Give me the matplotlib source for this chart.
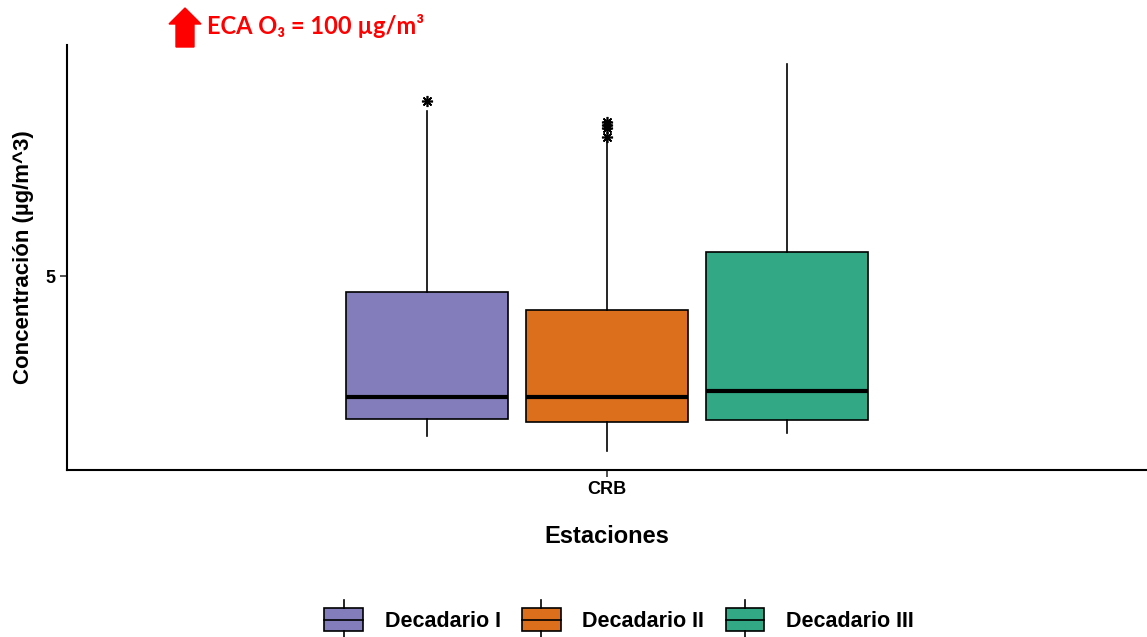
import math
import matplotlib
matplotlib.use("Agg")
import matplotlib.pyplot as plt
from matplotlib.patches import Rectangle, FancyArrow, Patch
from matplotlib.lines import Line2D
from matplotlib.legend_handler import HandlerBase
from matplotlib.ticker import NullLocator

plt.rcParams['font.family'] = ['Liberation Sans', 'DejaVu Sans']

# values (ug/m^3, log axis)
groups = ["Decadario I", "Decadario II", "Decadario III"]
colors = ["#837EBB", "#DC6F1B", "#32A885"]
station = "CRB"
whis_lo = [3.155, 3.022, 3.183]
q1 = [3.314, 3.285, 3.304]
median = [3.530, 3.530, 3.592]
q3 = [4.775, 4.534, 5.373]
whis_hi = [8.063, 7.396, 9.231]
outliers = [[8.298], [7.812, 7.745, 7.678, 7.482], []]

stats = []
for i in range(len(groups)):
    stats.append({"med": median[i], "q1": q1[i], "q3": q3[i],
                  "whislo": whis_lo[i], "whishi": whis_hi[i],
                  "fliers": outliers[i], "label": groups[i]})

fig = plt.figure(figsize=(11.47, 6.37), dpi=100)
ax = fig.add_axes([67 / 1147, 167 / 637, 1080 / 1147, 425 / 637])

dodge = 0.2
positions = [1 + (i - 1) * dodge for i in range(len(groups))]
bp = ax.bxp(stats, positions=positions, widths=0.18, patch_artist=True,
            showcaps=False,
            boxprops=dict(edgecolor="black", linewidth=1.2),
            medianprops=dict(color="black", linewidth=3),
            whiskerprops=dict(color="black", linewidth=1.2),
            flierprops=dict(marker=(8, 2, 0), markersize=8,
                            markeredgecolor="black", markeredgewidth=1.2,
                            linestyle="none"))
for box, c in zip(bp["boxes"], colors):
    box.set_facecolor(c)

# log axis, 5% expansion like ggplot
ax.set_yscale("log")
lo = min(whis_lo)
hi = max(max(whis_hi), max(max(o) for o in outliers if o))
span = math.log10(hi) - math.log10(lo)
ax.set_ylim(10 ** (math.log10(lo) - 0.05 * span), 10 ** (math.log10(hi) + 0.05 * span))
ax.set_yticks([5])
ax.set_yticklabels(["5"])
ax.yaxis.set_minor_locator(NullLocator())
ax.set_xlim(0.4, 1.6)
ax.set_xticks([1])
ax.set_xticklabels([station])

for s in ["top", "right"]:
    ax.spines[s].set_visible(False)
for s in ["left", "bottom"]:
    ax.spines[s].set_linewidth(1.5)
ax.tick_params(axis="both", length=5, width=1.2, color="#333333", pad=3,
               labelsize=13)
for lab in ax.get_xticklabels() + ax.get_yticklabels():
    lab.set_fontweight("bold")

ax.set_ylabel("Concentración (µg/m^3)", fontsize=16, fontweight="bold")
ax.yaxis.set_label_coords(-0.031, 0.5)
ax.set_xlabel("Estaciones", fontsize=17, fontweight="bold")
ax.xaxis.set_label_coords(0.5, -0.13)


class BoxHandler(HandlerBase):
    def create_artists(self, legend, orig_handle, xdescent, ydescent,
                       width, height, fontsize, trans):
        x0, y0 = -xdescent, -ydescent
        r = Rectangle((x0, y0), width, height, facecolor=orig_handle.get_facecolor(),
                      edgecolor="black", linewidth=1.2, transform=trans)
        xm = x0 + width / 2
        stub = height * 0.35
        l1 = Line2D([x0, x0 + width], [y0 + height / 2] * 2, color="black",
                    linewidth=1.2, transform=trans)
        l2 = Line2D([xm, xm], [y0 + height, y0 + height + stub], color="black",
                    linewidth=1.2, transform=trans)
        l3 = Line2D([xm, xm], [y0, y0 - stub], color="black",
                    linewidth=1.2, transform=trans)
        return [r, l1, l2, l3]


handles = [Patch(facecolor=c, label=g) for g, c in zip(groups, colors)]
fig.legend(handles=handles, loc="center", bbox_to_anchor=(619 / 1147, 1 - 620 / 637),
           ncol=3, frameon=False, handler_map={Patch: BoxHandler()},
           prop=dict(size=15.5, weight="bold"), handlelength=1.8,
           handleheight=1.25, handletextpad=1.0, columnspacing=1.0,
           borderpad=0)

# ECA annotation at the top
fig.patches.append(FancyArrow(185 / 1147, 1 - 47 / 637, 0, 39 / 637,
                              width=18 / 1147, head_width=32 / 1147,
                              head_length=16 / 637, length_includes_head=True,
                              color="#FF0000", transform=fig.transFigure,
                              figure=fig))
fig.text(207 / 1147, 1 - 34 / 637, "ECA O₃ = 100 µg/m³", color="#FF0000",
         fontsize=17, fontweight="bold", family=["Lato", "DejaVu Sans"],
         va="baseline", ha="left")

fig.savefig("out.png", dpi=100)
